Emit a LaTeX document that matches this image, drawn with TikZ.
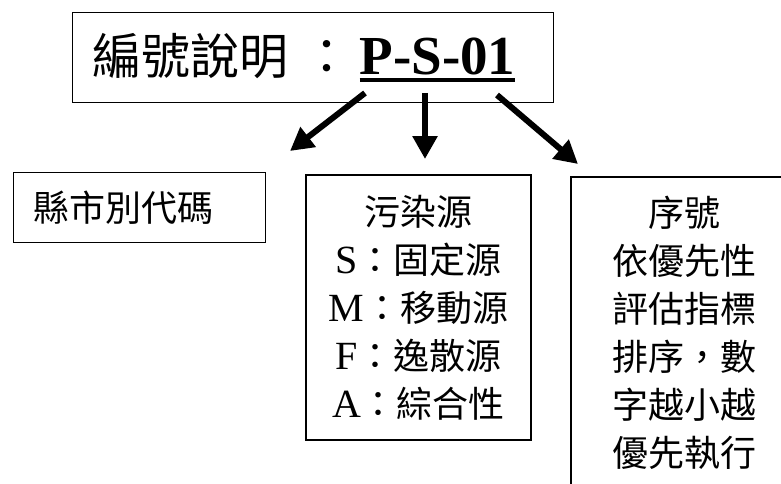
\documentclass[tikz,border=0pt]{standalone}
\usepackage{fontspec}
\setmainfont{Liberation Serif}
\newfontfamily\cjk{Noto Sans CJK TC}
\usetikzlibrary{arrows.meta}
\newlength\ulw
\newcommand\thickul[1]{\settowidth\ulw{#1}\makebox[0pt][l]{\rule[-7pt]{\ulw}{4pt}}#1}
\newcommand\lat[1]{{\rmfamily\fontsize{40}{48}\selectfont #1}}
\begin{document}
\begin{tikzpicture}[x=1pt,y=-1pt,
  box/.style={draw,line width=1.2pt,inner sep=0pt,align=center,font=\cjk\fontsize{36}{48}\selectfont},
  bigarrow/.style={line width=6pt,-{Triangle[length=23pt,width=24pt]}}]
\useasboundingbox (0,0) rectangle (781,484);
\clip (0,0) rectangle (781,484);
\node[draw,line width=1.2pt,minimum width=481pt,minimum height=90pt,inner xsep=20pt,inner ysep=0pt,text width=441pt,align=left,anchor=north west] (title) at (72,12)
  {{\cjk\fontsize{49}{60}\selectfont 編號說明\kern14pt：}\kern8pt{\fontsize{55}{60}\selectfont\bfseries\thickul{P-S-01}}};
\node[box,anchor=north west,minimum height=70pt,inner xsep=20pt,text width=212pt,align=left] (county) at (13,172) {縣市別代碼};
\node[box,minimum width=225pt,minimum height=265pt] (source) at (418.5,307.5)
  {污染源\\\lat{S}：固定源\\\lat{M}：移動源\\\lat{F}：逸散源\\\lat{A}：綜合性};
\node[box,minimum width=226pt,minimum height=312pt] (serial) at (684,333)
  {序號\\依優先性\\評估指標\\排序，數\\字越小越\\優先執行};
\coordinate (a1s) at (365,93); \coordinate (a1e) at (290,151);
\coordinate (a2s) at (425,93); \coordinate (a2e) at (425,159);
\coordinate (a3s) at (497,95); \coordinate (a3e) at (578,164);
\draw[bigarrow] (a1s) -- (a1e);
\draw[bigarrow] (a2s) -- (a2e);
\draw[bigarrow] (a3s) -- (a3e);
\end{tikzpicture}
\end{document}
